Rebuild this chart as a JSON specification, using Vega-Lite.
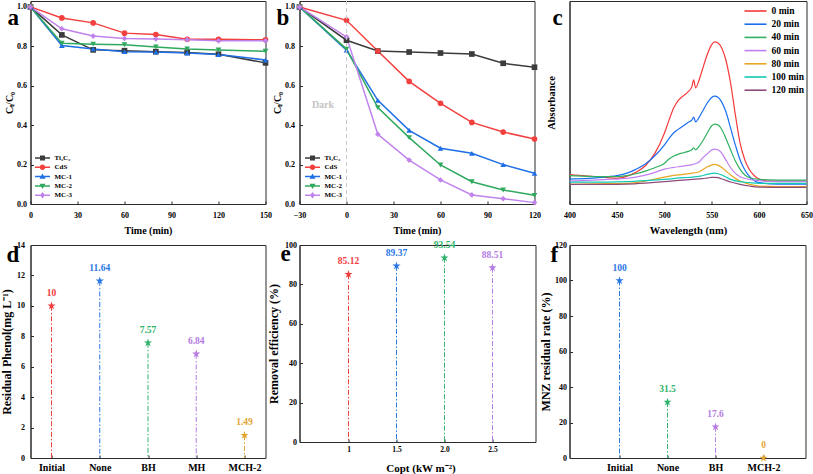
{
  "$schema": "https://vega.github.io/schema/vega-lite/v6.json",
  "background": "white",
  "padding": {"left": -0.5, "top": 0, "right": 0, "bottom": 0},
  "datasets": {
    "pa": [
      {"s":"Ti₃C₂","t":0,"v":1.0},{"s":"Ti₃C₂","t":20,"v":0.858},{"s":"Ti₃C₂","t":40,"v":0.782},{"s":"Ti₃C₂","t":60,"v":0.778},{"s":"Ti₃C₂","t":80,"v":0.773},{"s":"Ti₃C₂","t":100,"v":0.769},{"s":"Ti₃C₂","t":120,"v":0.76},{"s":"Ti₃C₂","t":150,"v":0.716},
      {"s":"CdS","t":0,"v":1.0},{"s":"CdS","t":20,"v":0.944},{"s":"CdS","t":40,"v":0.919},{"s":"CdS","t":60,"v":0.867},{"s":"CdS","t":80,"v":0.86},{"s":"CdS","t":100,"v":0.836},{"s":"CdS","t":120,"v":0.836},{"s":"CdS","t":150,"v":0.833},
      {"s":"MC-1","t":0,"v":1.0},{"s":"MC-1","t":20,"v":0.804},{"s":"MC-1","t":40,"v":0.787},{"s":"MC-1","t":60,"v":0.773},{"s":"MC-1","t":80,"v":0.771},{"s":"MC-1","t":100,"v":0.766},{"s":"MC-1","t":120,"v":0.758},{"s":"MC-1","t":150,"v":0.731},
      {"s":"MC-2","t":0,"v":1.0},{"s":"MC-2","t":20,"v":0.816},{"s":"MC-2","t":40,"v":0.811},{"s":"MC-2","t":60,"v":0.808},{"s":"MC-2","t":80,"v":0.797},{"s":"MC-2","t":100,"v":0.787},{"s":"MC-2","t":120,"v":0.782},{"s":"MC-2","t":150,"v":0.775},
      {"s":"MC-3","t":0,"v":1.0},{"s":"MC-3","t":20,"v":0.889},{"s":"MC-3","t":40,"v":0.852},{"s":"MC-3","t":60,"v":0.84},{"s":"MC-3","t":80,"v":0.837},{"s":"MC-3","t":100,"v":0.834},{"s":"MC-3","t":120,"v":0.828},{"s":"MC-3","t":150,"v":0.828}
    ],
    "pb": [
      {"s":"Ti₃C₂","t":-30,"v":1.0},{"s":"Ti₃C₂","t":0,"v":0.831},{"s":"Ti₃C₂","t":20,"v":0.776},{"s":"Ti₃C₂","t":40,"v":0.771},{"s":"Ti₃C₂","t":60,"v":0.766},{"s":"Ti₃C₂","t":80,"v":0.761},{"s":"Ti₃C₂","t":100,"v":0.714},{"s":"Ti₃C₂","t":120,"v":0.694},
      {"s":"CdS","t":-30,"v":1.0},{"s":"CdS","t":0,"v":0.932},{"s":"CdS","t":20,"v":0.776},{"s":"CdS","t":40,"v":0.622},{"s":"CdS","t":60,"v":0.511},{"s":"CdS","t":80,"v":0.414},{"s":"CdS","t":100,"v":0.365},{"s":"CdS","t":120,"v":0.33},
      {"s":"MC-1","t":-30,"v":1.0},{"s":"MC-1","t":0,"v":0.781},{"s":"MC-1","t":20,"v":0.526},{"s":"MC-1","t":40,"v":0.374},{"s":"MC-1","t":60,"v":0.283},{"s":"MC-1","t":80,"v":0.257},{"s":"MC-1","t":100,"v":0.2},{"s":"MC-1","t":120,"v":0.156},
      {"s":"MC-2","t":-30,"v":1.0},{"s":"MC-2","t":0,"v":0.786},{"s":"MC-2","t":20,"v":0.489},{"s":"MC-2","t":40,"v":0.337},{"s":"MC-2","t":60,"v":0.198},{"s":"MC-2","t":80,"v":0.113},{"s":"MC-2","t":100,"v":0.071},{"s":"MC-2","t":120,"v":0.044},
      {"s":"MC-3","t":-30,"v":1.0},{"s":"MC-3","t":0,"v":0.848},{"s":"MC-3","t":20,"v":0.354},{"s":"MC-3","t":40,"v":0.223},{"s":"MC-3","t":60,"v":0.122},{"s":"MC-3","t":80,"v":0.046},{"s":"MC-3","t":100,"v":0.027},{"s":"MC-3","t":120,"v":0.007}
    ],
    "pc": [
      {"m":"0 min","w":400,"a":0.88},{"m":"0 min","w":410,"a":0.86},{"m":"0 min","w":420,"a":0.84},{"m":"0 min","w":430,"a":0.82},{"m":"0 min","w":440,"a":0.79},{"m":"0 min","w":450,"a":0.77},{"m":"0 min","w":460,"a":0.83},{"m":"0 min","w":470,"a":0.95},{"m":"0 min","w":480,"a":1.15},{"m":"0 min","w":490,"a":1.52},{"m":"0 min","w":500,"a":2.12},{"m":"0 min","w":505,"a":2.52},{"m":"0 min","w":510,"a":2.89},{"m":"0 min","w":515,"a":3.12},{"m":"0 min","w":520,"a":3.25},{"m":"0 min","w":525,"a":3.37},{"m":"0 min","w":529,"a":3.52},{"m":"0 min","w":531,"a":3.73},{"m":"0 min","w":533,"a":3.49},{"m":"0 min","w":537,"a":3.75},{"m":"0 min","w":540,"a":4.02},{"m":"0 min","w":545,"a":4.47},{"m":"0 min","w":550,"a":4.79},{"m":"0 min","w":553,"a":4.87},{"m":"0 min","w":557,"a":4.83},{"m":"0 min","w":560,"a":4.72},{"m":"0 min","w":565,"a":4.32},{"m":"0 min","w":570,"a":3.62},{"m":"0 min","w":575,"a":2.67},{"m":"0 min","w":580,"a":1.82},{"m":"0 min","w":585,"a":1.32},{"m":"0 min","w":590,"a":1.02},{"m":"0 min","w":595,"a":0.85},{"m":"0 min","w":600,"a":0.75},{"m":"0 min","w":610,"a":0.69},{"m":"0 min","w":620,"a":0.69},{"m":"0 min","w":650,"a":0.69},
      {"m":"20 min","w":400,"a":0.75},{"m":"20 min","w":420,"a":0.77},{"m":"20 min","w":440,"a":0.82},{"m":"20 min","w":450,"a":0.85},{"m":"20 min","w":460,"a":0.92},{"m":"20 min","w":470,"a":1.04},{"m":"20 min","w":480,"a":1.2},{"m":"20 min","w":490,"a":1.45},{"m":"20 min","w":500,"a":1.77},{"m":"20 min","w":505,"a":1.97},{"m":"20 min","w":510,"a":2.14},{"m":"20 min","w":515,"a":2.25},{"m":"20 min","w":520,"a":2.35},{"m":"20 min","w":525,"a":2.45},{"m":"20 min","w":529,"a":2.52},{"m":"20 min","w":531,"a":2.61},{"m":"20 min","w":533,"a":2.47},{"m":"20 min","w":537,"a":2.62},{"m":"20 min","w":540,"a":2.77},{"m":"20 min","w":545,"a":3.02},{"m":"20 min","w":550,"a":3.2},{"m":"20 min","w":553,"a":3.24},{"m":"20 min","w":557,"a":3.2},{"m":"20 min","w":560,"a":3.09},{"m":"20 min","w":565,"a":2.77},{"m":"20 min","w":570,"a":2.27},{"m":"20 min","w":575,"a":1.77},{"m":"20 min","w":580,"a":1.32},{"m":"20 min","w":585,"a":1.02},{"m":"20 min","w":590,"a":0.82},{"m":"20 min","w":595,"a":0.7},{"m":"20 min","w":600,"a":0.64},{"m":"20 min","w":620,"a":0.6},{"m":"20 min","w":650,"a":0.6},
      {"m":"40 min","w":400,"a":0.85},{"m":"40 min","w":420,"a":0.83},{"m":"40 min","w":440,"a":0.82},{"m":"40 min","w":450,"a":0.82},{"m":"40 min","w":460,"a":0.85},{"m":"40 min","w":470,"a":0.91},{"m":"40 min","w":480,"a":0.99},{"m":"40 min","w":490,"a":1.09},{"m":"40 min","w":500,"a":1.22},{"m":"40 min","w":505,"a":1.35},{"m":"40 min","w":510,"a":1.44},{"m":"40 min","w":515,"a":1.5},{"m":"40 min","w":520,"a":1.54},{"m":"40 min","w":525,"a":1.58},{"m":"40 min","w":529,"a":1.63},{"m":"40 min","w":531,"a":1.69},{"m":"40 min","w":533,"a":1.63},{"m":"40 min","w":537,"a":1.75},{"m":"40 min","w":540,"a":1.87},{"m":"40 min","w":545,"a":2.12},{"m":"40 min","w":550,"a":2.35},{"m":"40 min","w":553,"a":2.4},{"m":"40 min","w":557,"a":2.37},{"m":"40 min","w":560,"a":2.27},{"m":"40 min","w":565,"a":1.97},{"m":"40 min","w":570,"a":1.62},{"m":"40 min","w":575,"a":1.29},{"m":"40 min","w":580,"a":1.04},{"m":"40 min","w":585,"a":0.87},{"m":"40 min","w":590,"a":0.79},{"m":"40 min","w":600,"a":0.74},{"m":"40 min","w":620,"a":0.72},{"m":"40 min","w":650,"a":0.72},
      {"m":"60 min","w":400,"a":0.69},{"m":"60 min","w":420,"a":0.71},{"m":"60 min","w":440,"a":0.74},{"m":"60 min","w":450,"a":0.75},{"m":"60 min","w":460,"a":0.77},{"m":"60 min","w":470,"a":0.81},{"m":"60 min","w":480,"a":0.87},{"m":"60 min","w":490,"a":0.95},{"m":"60 min","w":500,"a":1.05},{"m":"60 min","w":510,"a":1.1},{"m":"60 min","w":520,"a":1.14},{"m":"60 min","w":530,"a":1.19},{"m":"60 min","w":537,"a":1.27},{"m":"60 min","w":540,"a":1.37},{"m":"60 min","w":545,"a":1.5},{"m":"60 min","w":550,"a":1.62},{"m":"60 min","w":553,"a":1.65},{"m":"60 min","w":557,"a":1.62},{"m":"60 min","w":560,"a":1.55},{"m":"60 min","w":565,"a":1.32},{"m":"60 min","w":570,"a":1.09},{"m":"60 min","w":575,"a":0.92},{"m":"60 min","w":580,"a":0.82},{"m":"60 min","w":590,"a":0.74},{"m":"60 min","w":600,"a":0.7},{"m":"60 min","w":620,"a":0.67},{"m":"60 min","w":650,"a":0.67},
      {"m":"80 min","w":400,"a":0.59},{"m":"80 min","w":440,"a":0.61},{"m":"80 min","w":460,"a":0.62},{"m":"80 min","w":470,"a":0.64},{"m":"80 min","w":480,"a":0.69},{"m":"80 min","w":490,"a":0.75},{"m":"80 min","w":500,"a":0.81},{"m":"80 min","w":510,"a":0.86},{"m":"80 min","w":520,"a":0.89},{"m":"80 min","w":530,"a":0.93},{"m":"80 min","w":537,"a":0.97},{"m":"80 min","w":540,"a":1.02},{"m":"80 min","w":545,"a":1.11},{"m":"80 min","w":550,"a":1.17},{"m":"80 min","w":553,"a":1.19},{"m":"80 min","w":557,"a":1.16},{"m":"80 min","w":560,"a":1.11},{"m":"80 min","w":565,"a":0.99},{"m":"80 min","w":570,"a":0.87},{"m":"80 min","w":575,"a":0.77},{"m":"80 min","w":580,"a":0.69},{"m":"80 min","w":590,"a":0.59},{"m":"80 min","w":600,"a":0.54},{"m":"80 min","w":620,"a":0.52},{"m":"80 min","w":650,"a":0.52},
      {"m":"100 min","w":400,"a":0.66},{"m":"100 min","w":440,"a":0.66},{"m":"100 min","w":460,"a":0.67},{"m":"100 min","w":480,"a":0.7},{"m":"100 min","w":500,"a":0.74},{"m":"100 min","w":520,"a":0.79},{"m":"100 min","w":530,"a":0.81},{"m":"100 min","w":540,"a":0.85},{"m":"100 min","w":545,"a":0.89},{"m":"100 min","w":550,"a":0.92},{"m":"100 min","w":553,"a":0.93},{"m":"100 min","w":557,"a":0.91},{"m":"100 min","w":560,"a":0.88},{"m":"100 min","w":565,"a":0.81},{"m":"100 min","w":570,"a":0.74},{"m":"100 min","w":580,"a":0.67},{"m":"100 min","w":590,"a":0.64},{"m":"100 min","w":600,"a":0.62},{"m":"100 min","w":620,"a":0.62},{"m":"100 min","w":650,"a":0.62},
      {"m":"120 min","w":400,"a":0.59},{"m":"120 min","w":440,"a":0.59},{"m":"120 min","w":460,"a":0.6},{"m":"120 min","w":480,"a":0.63},{"m":"120 min","w":500,"a":0.67},{"m":"120 min","w":520,"a":0.72},{"m":"120 min","w":530,"a":0.74},{"m":"120 min","w":540,"a":0.76},{"m":"120 min","w":545,"a":0.78},{"m":"120 min","w":550,"a":0.8},{"m":"120 min","w":553,"a":0.8},{"m":"120 min","w":557,"a":0.79},{"m":"120 min","w":560,"a":0.76},{"m":"120 min","w":565,"a":0.71},{"m":"120 min","w":570,"a":0.66},{"m":"120 min","w":580,"a":0.59},{"m":"120 min","w":590,"a":0.54},{"m":"120 min","w":600,"a":0.51},{"m":"120 min","w":620,"a":0.5},{"m":"120 min","w":650,"a":0.5}
    ]
  },
  "columns": 3,
  "align": "none",
  "bounds": "flush",
  "spacing": {"row": 41, "column": 34},
  "resolve": {"scale": {"color": "independent", "shape": "independent", "stroke": "independent", "fill": "independent"}, "legend": {"color": "independent", "shape": "independent"}},
  "concat": [
    {
      "width": 235, "height": 203,
      "title": {"text": "a", "dx": -23, "dy": 33},
      "data": {"name": "pa"},
      "encoding": {
        "x": {"field": "t", "type": "quantitative", "scale": {"domain": [0, 150], "nice": false}, "axis": {"values": [0, 30, 60, 90, 120, 150], "title": "Time (min)", "labelPadding": 10, "titlePadding": 6}},
        "y": {"field": "v", "type": "quantitative", "scale": {"domain": [0, 1.03], "nice": false}, "axis": {"values": [0, 0.2, 0.4, 0.6, 0.8, 1.0], "format": ".1f", "title": "Cₜ/C₀", "labelPadding": 7, "titlePadding": 2.5}}
      },
      "layer": [
        {"mark": {"type": "line", "strokeWidth": 1.5}, "encoding": {"stroke": {"field": "s", "type": "nominal", "scale": {"domain": ["Ti₃C₂","CdS","MC-1","MC-2","MC-3"], "range": ["#3c3c3c","#f2403f","#1f6fe5","#2fa95e","#c083ec"]}, "legend": null}}},
        {"mark": {"type": "point", "filled": true, "size": 32, "opacity": 1}, "encoding": {
          "fill": {"field": "s", "type": "nominal", "scale": {"domain": ["Ti₃C₂","CdS","MC-1","MC-2","MC-3"], "range": ["#3c3c3c","#f2403f","#1f6fe5","#2fa95e","#c083ec"]}, "legend": null},
          "shape": {"field": "s", "type": "nominal", "scale": {"domain": ["Ti₃C₂","CdS","MC-1","MC-2","MC-3"], "range": ["square","circle","triangle-up","triangle-down","diamond"]}, "legend": null}}},
        {"transform": [{"filter": "false"}], "mark": {"type": "point", "filled": true, "opacity": 1}, "encoding": {
          "color": {"field": "s", "type": "nominal", "scale": {"domain": ["Ti₃C₂","CdS","MC-1","MC-2","MC-3"], "range": ["#3c3c3c","#f2403f","#1f6fe5","#2fa95e","#c083ec"]}, "legend": {"orient": "none", "legendX": 6, "legendY": 151, "title": null, "labelFontSize": 7, "symbolSize": 100, "rowPadding": 0.3, "labelOffset": 6, "padding": 0}},
          "shape": {"field": "s", "type": "nominal", "scale": {"domain": ["Ti₃C₂","CdS","MC-1","MC-2","MC-3"], "range": [
            "M-1.5,-0.15H1.5V0.15H-1.5Z M-0.5,-0.5H0.5V0.5H-0.5Z",
            "M-1.5,-0.15H1.5V0.15H-1.5Z M-0.55,0A0.55,0.55 0 1,1 0.55,0A0.55,0.55 0 1,1 -0.55,0Z",
            "M-1.5,-0.15H1.5V0.15H-1.5Z M0,-0.6L0.6,0.45H-0.6Z",
            "M-1.5,-0.15H1.5V0.15H-1.5Z M0,0.6L-0.6,-0.45H0.6Z",
            "M-1.5,-0.15H1.5V0.15H-1.5Z M0,-0.65L0.5,0L0,0.65L-0.5,0Z"]}, "legend": {"orient": "none", "legendX": 6, "legendY": 151, "title": null, "labelFontSize": 7, "symbolSize": 100, "rowPadding": 0.3, "labelOffset": 6, "padding": 0}}}}
      ],
      "resolve": {"scale": {"shape": "independent", "color": "independent"}}
    },
    {
      "width": 235, "height": 203,
      "title": {"text": "b", "dx": -23, "dy": 33},
      "layer": [
        {
          "data": {"name": "pb"},
          "encoding": {
            "x": {"field": "t", "type": "quantitative", "scale": {"domain": [-30, 120], "nice": false}, "axis": {"values": [-30, 0, 30, 60, 90, 120], "title": "Time (min)", "labelPadding": 10, "titlePadding": 6}},
            "y": {"field": "v", "type": "quantitative", "scale": {"domain": [0, 1.03], "nice": false}, "axis": {"values": [0, 0.2, 0.4, 0.6, 0.8, 1.0], "format": ".1f", "title": "Cₜ/C₀", "labelPadding": 8, "titlePadding": 2.5}}
          },
          "layer": [
            {"mark": {"type": "line", "strokeWidth": 1.5}, "encoding": {"stroke": {"field": "s", "type": "nominal", "scale": {"domain": ["Ti₃C₂","CdS","MC-1","MC-2","MC-3"], "range": ["#3c3c3c","#f2403f","#1f6fe5","#2fa95e","#c083ec"]}, "legend": null}}},
            {"mark": {"type": "point", "filled": true, "size": 32, "opacity": 1}, "encoding": {
              "fill": {"field": "s", "type": "nominal", "scale": {"domain": ["Ti₃C₂","CdS","MC-1","MC-2","MC-3"], "range": ["#3c3c3c","#f2403f","#1f6fe5","#2fa95e","#c083ec"]}, "legend": null},
              "shape": {"field": "s", "type": "nominal", "scale": {"domain": ["Ti₃C₂","CdS","MC-1","MC-2","MC-3"], "range": ["square","circle","triangle-up","triangle-down","diamond"]}, "legend": null}}},
            {"transform": [{"filter": "false"}], "mark": {"type": "point", "filled": true, "opacity": 1}, "encoding": {
              "color": {"field": "s", "type": "nominal", "scale": {"domain": ["Ti₃C₂","CdS","MC-1","MC-2","MC-3"], "range": ["#3c3c3c","#f2403f","#1f6fe5","#2fa95e","#c083ec"]}, "legend": {"orient": "none", "legendX": 7, "legendY": 151, "title": null, "labelFontSize": 7, "symbolSize": 100, "rowPadding": 0.3, "labelOffset": 6, "padding": 0}},
              "shape": {"field": "s", "type": "nominal", "scale": {"domain": ["Ti₃C₂","CdS","MC-1","MC-2","MC-3"], "range": [
                "M-1.5,-0.15H1.5V0.15H-1.5Z M-0.5,-0.5H0.5V0.5H-0.5Z",
                "M-1.5,-0.15H1.5V0.15H-1.5Z M-0.55,0A0.55,0.55 0 1,1 0.55,0A0.55,0.55 0 1,1 -0.55,0Z",
                "M-1.5,-0.15H1.5V0.15H-1.5Z M0,-0.6L0.6,0.45H-0.6Z",
                "M-1.5,-0.15H1.5V0.15H-1.5Z M0,0.6L-0.6,-0.45H0.6Z",
                "M-1.5,-0.15H1.5V0.15H-1.5Z M0,-0.65L0.5,0L0,0.65L-0.5,0Z"]}, "legend": {"orient": "none", "legendX": 7, "legendY": 151, "title": null, "labelFontSize": 7, "symbolSize": 100, "rowPadding": 0.3, "labelOffset": 6, "padding": 0}}}}
          ],
          "resolve": {"scale": {"shape": "independent", "color": "independent"}}
        },
        {"data": {"values": [{}]}, "mark": {"type": "rule", "strokeDash": [4, 3], "color": "#c8c8c8", "strokeWidth": 1}, "encoding": {"x": {"datum": 0, "type": "quantitative", "scale": {"domain": [-30, 120], "nice": false}}}},
        {"data": {"values": [{}]}, "mark": {"type": "text", "text": "Dark", "color": "#c4c4c4", "fontSize": 10, "fontWeight": "bold", "font": "Liberation Serif"}, "encoding": {"x": {"datum": -15, "type": "quantitative", "scale": {"domain": [-30, 120], "nice": false}}, "y": {"datum": 0.5, "type": "quantitative", "scale": {"domain": [0, 1.03], "nice": false}}}}
      ]
    },
    {
      "width": 237, "height": 203,
      "title": {"text": "c", "dx": -17, "dy": 33},
      "data": {"name": "pc"},
      "mark": {"type": "line", "strokeWidth": 1.2, "interpolate": "monotone"},
      "encoding": {
        "x": {"field": "w", "type": "quantitative", "scale": {"domain": [400, 650], "nice": false}, "axis": {"values": [400, 450, 500, 550, 600, 650], "title": "Wavelength (nm)", "titleFontSize": 10.5, "labelPadding": 10, "titlePadding": 6}},
        "y": {"field": "a", "type": "quantitative", "scale": {"domain": [0, 6.1], "nice": false}, "axis": {"title": "Absorbance", "labels": false, "ticks": false, "titleFontSize": 10.5, "titlePadding": 13}},
        "color": {"field": "m", "type": "nominal", "scale": {"domain": ["0 min","20 min","40 min","60 min","80 min","100 min","120 min"], "range": ["#f53a3a","#1a6ff0","#30b060","#c07ff0","#e8a623","#12c9b5","#8e4a7a"]},
          "legend": {"orient": "none", "legendX": 180, "legendY": 4, "title": null, "labelFontSize": 9.5, "symbolType": "M-2.2,0H2.2", "symbolSize": 100, "symbolStrokeWidth": 1.6, "rowPadding": 2.2, "labelOffset": 10, "padding": 0}}
      }
    },
    {
      "width": 235, "height": 213,
      "title": {"text": "d", "dx": -24, "dy": 30},
      "data": {"values": [{"g":"Initial","r":10},{"g":"None","r":11.64},{"g":"BH","r":7.57},{"g":"MH","r":6.84},{"g":"MCH-2","r":1.49}]},
      "encoding": {
        "x": {"field": "g", "type": "ordinal", "sort": null, "scale": {"type": "point", "range": [21, 214], "padding": 0}, "axis": {"title": null, "labelAngle": 0, "labelFontSize": 10, "labelPadding": 7}},
        "y": {"field": "r", "type": "quantitative", "scale": {"domain": [0, 14], "nice": false}, "axis": {"values": [0, 2, 4, 6, 8, 10, 12, 14], "title": "Residual Phenol(mg L⁻¹)", "titleFontSize": 12, "labelPadding": 9, "titlePadding": 3.5}},
        "color": {"field": "g", "type": "nominal", "sort": null, "scale": {"domain": ["Initial","None","BH","MH","MCH-2"], "range": ["#f03c3c","#2a78e4","#2db36a","#b57be3","#e3a532"]}, "legend": null}
      },
      "layer": [
        {"mark": {"type": "rule", "strokeDash": [5, 2, 1.5, 2], "strokeWidth": 1}, "encoding": {"y2": {"datum": 0}}},
        {"mark": {"type": "point", "shape": "M0,-1L0.2245,-0.309L0.9511,-0.309L0.3633,0.118L0.5878,0.809L0,0.382L-0.5878,0.809L-0.3633,0.118L-0.9511,-0.309L-0.2245,-0.309Z", "filled": true, "size": 75, "opacity": 1}},
        {"mark": {"type": "text", "dy": -13, "fontSize": 9.5, "fontWeight": "bold", "font": "Liberation Serif"}, "encoding": {"text": {"field": "r", "type": "nominal"}}}
      ]
    },
    {
      "width": 236, "height": 197,
      "title": {"text": "e", "dx": -19, "dy": 30},
      "data": {"values": [{"c":"1","r":85.12},{"c":"1.5","r":89.37},{"c":"2.0","r":93.54},{"c":"2.5","r":88.51}]},
      "encoding": {
        "x": {"field": "c", "type": "ordinal", "sort": null, "scale": {"type": "point", "range": [49, 193], "padding": 0}, "axis": {"title": "Copt (kW m⁻²)", "titleFontSize": 11, "labelAngle": 0, "labelFontSize": 7.5, "labelPadding": 6, "titlePadding": 9.5}},
        "y": {"field": "r", "type": "quantitative", "scale": {"domain": [0, 100], "nice": false}, "axis": {"values": [0, 20, 40, 60, 80, 100], "title": "Removal efficiency (%)", "titleFontSize": 12, "labelPadding": 6, "titlePadding": 4}},
        "color": {"field": "c", "type": "nominal", "sort": null, "scale": {"domain": ["1","1.5","2.0","2.5"], "range": ["#f03c3c","#2a78e4","#2db36a","#b57be3"]}, "legend": null}
      },
      "layer": [
        {"mark": {"type": "rule", "strokeDash": [5, 2, 1.5, 2], "strokeWidth": 1}, "encoding": {"y2": {"datum": 0}}},
        {"mark": {"type": "point", "shape": "M0,-1L0.2245,-0.309L0.9511,-0.309L0.3633,0.118L0.5878,0.809L0,0.382L-0.5878,0.809L-0.3633,0.118L-0.9511,-0.309L-0.2245,-0.309Z", "filled": true, "size": 75, "opacity": 1}},
        {"mark": {"type": "text", "dy": -13, "fontSize": 9.5, "fontWeight": "bold", "font": "Liberation Serif"}, "encoding": {"text": {"field": "r", "type": "nominal"}}}
      ]
    },
    {
      "width": 236, "height": 213,
      "title": {"text": "f", "dx": -19, "dy": 30},
      "data": {"values": [{"g":"Initial","r":100},{"g":"None","r":31.5},{"g":"BH","r":17.6},{"g":"MCH-2","r":0}]},
      "encoding": {
        "x": {"field": "g", "type": "ordinal", "sort": null, "scale": {"type": "point", "range": [50, 194], "padding": 0}, "axis": {"title": null, "labelAngle": 0, "labelFontSize": 10, "labelPadding": 7}},
        "y": {"field": "r", "type": "quantitative", "scale": {"domain": [0, 120], "nice": false}, "axis": {"values": [0, 20, 40, 60, 80, 100, 120], "title": "MNZ residual rate (%)", "titleFontSize": 12, "labelPadding": 6, "titlePadding": 2.5}},
        "color": {"field": "g", "type": "nominal", "sort": null, "scale": {"domain": ["Initial","None","BH","MCH-2"], "range": ["#2a78e4","#2db36a","#b57be3","#e3a532"]}, "legend": null}
      },
      "layer": [
        {"mark": {"type": "rule", "strokeDash": [5, 2, 1.5, 2], "strokeWidth": 1}, "encoding": {"y2": {"datum": 0}}},
        {"mark": {"type": "point", "shape": "M0,-1L0.2245,-0.309L0.9511,-0.309L0.3633,0.118L0.5878,0.809L0,0.382L-0.5878,0.809L-0.3633,0.118L-0.9511,-0.309L-0.2245,-0.309Z", "filled": true, "size": 75, "opacity": 1}},
        {"mark": {"type": "text", "dy": -13, "fontSize": 9.5, "fontWeight": "bold", "font": "Liberation Serif"}, "encoding": {"text": {"field": "r", "type": "nominal"}}}
      ]
    }
  ],
  "config": {
    "font": "Liberation Serif",
    "view": {"stroke": "#2b2b2b", "strokeWidth": 1},
    "axis": {"grid": false, "domainColor": "#2b2b2b", "domainWidth": 1, "tickColor": "#2b2b2b", "tickSize": -3, "labelFlush": false, "labelOverlap": false, "labelFont": "Liberation Serif", "labelFontWeight": "bold", "labelFontSize": 8, "labelColor": "#000000", "titleFont": "Liberation Serif", "titleFontWeight": "bold", "titleColor": "#000000", "titleFontSize": 10},
    "legend": {"labelFont": "Liberation Serif", "labelFontWeight": "bold", "labelColor": "#000000"},
    "title": {"font": "Liberation Serif", "fontWeight": "bold", "fontSize": 23, "color": "#000000", "anchor": "start", "frame": "group", "offset": 0, "baseline": "alphabetic"}
  }
}
